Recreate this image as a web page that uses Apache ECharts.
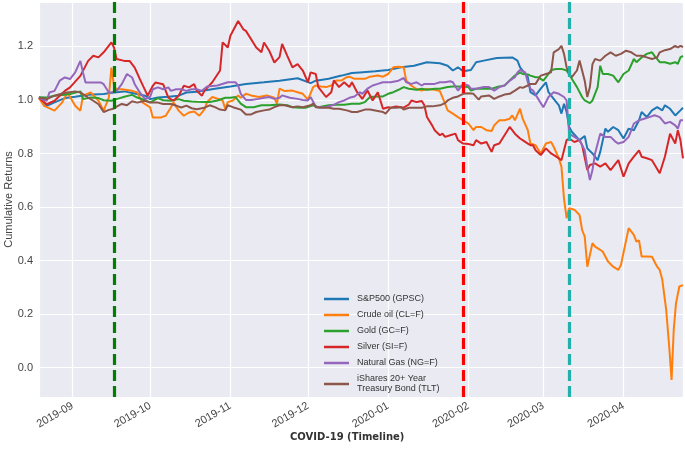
<!DOCTYPE html>
<html>
<head>
<meta charset="utf-8">
<script src="https://cdn.jsdelivr.net/npm/echarts@6/dist/echarts.min.js"></script>
<style>html,body{margin:0;padding:0;background:#fff;}#c{width:685px;height:454px;}</style>
</head>
<body>
<div id="c"></div>
<script>
const seriesNames = ['S&P500 (GPSC)', 'Crude oil (CL=F)', 'Gold (GC=F)', 'Silver (SI=F)', 'Natural Gas (NG=F)', 'iShares 20+ Year Treasury Bond (TLT)'];
const seriesColors = ['#1f77b4', '#ff7f0e', '#2ca02c', '#d62728', '#9467bd', '#8c564b'];

const sp500 = [
['2019-08-19',1.01],['2019-08-22',0.978],['2019-08-25',0.991],['2019-08-29',1.007],['2019-09-02',1.012],['2019-09-07',1.019],['2019-09-13',1.022],['2019-09-17',1.028],['2019-09-21',1.032],['2019-09-25',1.024],['2019-09-29',1.016],['2019-10-01',1.003],['2019-10-04',1.009],['2019-10-08',1.012],['2019-10-12',1.016],['2019-10-15',1.028],['2019-10-19',1.031],
['2019-10-22',1.035],['2019-10-26',1.042],['2019-11-01',1.05],['2019-11-07',1.06],['2019-11-14',1.066],['2019-11-20',1.072],['2019-11-27',1.081],['2019-12-02',1.063],['2019-12-04',1.072],['2019-12-09',1.079],['2019-12-14',1.091],['2019-12-18',1.101],['2019-12-21',1.103],
['2019-12-27',1.107],['2020-01-01',1.112],['2020-01-06',1.122],['2020-01-11',1.128],['2020-01-16',1.141],['2020-01-21',1.137],['2020-01-24',1.128],['2020-01-26',1.11],['2020-01-28',1.122],['2020-01-30',1.107],['2020-02-02',1.112],['2020-02-04',1.141],['2020-02-07',1.147],['2020-02-12',1.157],['2020-02-18',1.159],['2020-02-20',1.147],
['2020-02-21',1.122],['2020-02-24',1.085],['2020-02-25',1.029],['2020-02-27',1.017],['2020-02-29',1.042],['2020-03-02',1.066],['2020-03-03',1.029],['2020-03-05',1.004],['2020-03-07',0.98],['2020-03-08',0.949],['2020-03-09',0.986],['2020-03-10',0.955],['2020-03-11',0.899],['2020-03-12',0.881],['2020-03-15',0.85],['2020-03-17',0.865],['2020-03-18',0.819],['2020-03-20',0.8],['2020-03-22',0.775],['2020-03-23',0.806],['2020-03-25',0.893],['2020-03-26',0.881],['2020-03-28',0.899],['2020-03-30',0.887],['2020-04-01',0.856],['2020-04-03',0.893],['2020-04-05',0.887],['2020-04-07',0.924],['2020-04-08',0.955],['2020-04-10',0.936],['2020-04-12',0.961],['2020-04-14',0.973],['2020-04-16',0.961],['2020-04-17',0.98],['2020-04-19',0.967],['2020-04-21',0.942],['2020-04-23',0.961],['2020-04-24',0.971]
];

const crudeOil = [
['2019-08-19',1.007],['2019-08-21',0.978],['2019-08-25',0.96],['2019-08-28',0.991],['2019-08-30',1.028],['2019-09-02',0.978],['2019-09-04',0.96],['2019-09-05',1.016],['2019-09-08',1.028],['2019-09-11',0.997],['2019-09-13',0.96],['2019-09-15',1.009],['2019-09-16',1.121],['2019-09-17',1.053],['2019-09-18',1.04],['2019-09-20',1.04],['2019-09-22',1.037],['2019-09-24',1.034],['2019-09-26',1.028],['2019-09-28',0.991],['2019-10-01',0.972],['2019-10-02',0.934],['2019-10-05',0.934],['2019-10-07',0.941],['2019-10-09',0.972],['2019-10-10',0.991],['2019-10-12',0.96],['2019-10-14',0.941],['2019-10-16',0.953],['2019-10-18',0.957],['2019-10-20',0.941],
['2019-10-22',0.965],['2019-10-23',0.992],['2019-10-25',1.011],['2019-10-27',1.005],['2019-10-29',0.998],['2019-10-30',0.967],['2019-10-31',0.992],['2019-11-02',0.998],['2019-11-04',1.017],['2019-11-05',1.008],['2019-11-07',1.023],['2019-11-09',1.017],['2019-11-12',1.011],['2019-11-15',1.017],['2019-11-18',1.008],['2019-11-19',0.986],['2019-11-20',1.042],['2019-11-22',1.033],['2019-11-25',1.035],['2019-11-27',1.029],['2019-11-29',1.023],['2019-12-01',1.001],['2019-12-03',1.048],['2019-12-04',1.054],['2019-12-06',1.05],['2019-12-08',1.048],['2019-12-10',1.054],['2019-12-12',1.073],['2019-12-14',1.073],['2019-12-16',1.085],['2019-12-17',1.087],['2019-12-19',1.079],['2019-12-21',1.079],
['2019-12-23',1.079],['2019-12-25',1.087],['2019-12-28',1.091],['2019-12-30',1.087],['2020-01-01',1.097],['2020-01-03',1.122],['2020-01-05',1.124],['2020-01-07',1.122],['2020-01-08',1.072],['2020-01-10',1.053],['2020-01-12',1.041],['2020-01-14',1.035],['2020-01-16',1.041],['2020-01-19',1.038],['2020-01-21',1.033],['2020-01-23',0.986],['2020-01-24',0.961],['2020-01-26',0.949],['2020-01-28',0.936],['2020-01-30',0.924],['2020-02-01',0.912],['2020-02-03',0.887],['2020-02-04',0.899],['2020-02-06',0.899],['2020-02-08',0.887],['2020-02-10',0.884],['2020-02-11',0.905],['2020-02-13',0.924],['2020-02-15',0.924],['2020-02-17',0.93],['2020-02-18',0.942],['2020-02-19',0.924],['2020-02-21',0.967],
['2020-02-22',0.93],['2020-02-24',0.887],['2020-02-25',0.837],['2020-02-27',0.831],['2020-02-29',0.8],['2020-03-02',0.837],['2020-03-04',0.843],['2020-03-05',0.825],['2020-03-07',0.782],['2020-03-08',0.751],['2020-03-09',0.63],['2020-03-10',0.558],['2020-03-11',0.595],['2020-03-13',0.59],['2020-03-15',0.57],['2020-03-16',0.514],['2020-03-17',0.489],['2020-03-18',0.377],['2020-03-20',0.465],['2020-03-21',0.452],['2020-03-23',0.44],['2020-03-24',0.433],['2020-03-26',0.396],['2020-03-28',0.377],['2020-03-30',0.365],['2020-03-31',0.383],['2020-04-03',0.521],['2020-04-05',0.496],['2020-04-06',0.471],['2020-04-07',0.475],['2020-04-08',0.415],['2020-04-10',0.415],['2020-04-12',0.414],['2020-04-14',0.377],['2020-04-15',0.365],['2020-04-16',0.328],['2020-04-17 12:00',0.216],['2020-04-18 16:00',0.078],['2020-04-19 14:00',-0.046],['2020-04-20 10:00',0.141],['2020-04-21 07:00',0.24],['2020-04-22 14:00',0.303],['2020-04-24',0.308]
];

const gold = [
['2019-08-19',1.01],['2019-08-22',1.009],['2019-08-25',1.016],['2019-08-29',1.019],['2019-08-31',1.022],['2019-09-04',1.032],['2019-09-05',1.003],['2019-09-08',1.009],['2019-09-11',1.007],['2019-09-13',0.999],['2019-09-16',0.997],['2019-09-18',1.003],['2019-09-21',1.012],['2019-09-24',1.019],['2019-09-26',1.009],['2019-09-29',0.999],['2019-10-01',0.991],['2019-10-04',1.007],['2019-10-06',0.999],['2019-10-09',0.997],['2019-10-12',1.003],['2019-10-14',0.997],['2019-10-17',0.994],['2019-10-19',0.993],
['2019-10-22',0.992],['2019-10-24',0.992],['2019-10-27',0.998],['2019-10-30',1.008],['2019-11-01',1.008],['2019-11-03',1.011],['2019-11-04',0.998],['2019-11-05',0.986],['2019-11-07',0.973],['2019-11-10',0.973],['2019-11-13',0.98],['2019-11-16',0.98],['2019-11-20',0.983],['2019-11-23',0.98],['2019-11-25',0.973],['2019-11-28',0.971],['2019-11-30',0.971],['2019-12-03',0.98],['2019-12-05',0.973],['2019-12-09',0.98],['2019-12-12',0.982],['2019-12-15',0.982],['2019-12-18',0.986],['2019-12-21',0.986],
['2019-12-23',0.992],['2019-12-25',1.011],['2019-12-28',1.013],['2019-12-30',1.013],['2020-01-01',1.023],['2020-01-03',1.029],['2020-01-05',1.038],['2020-01-07',1.048],['2020-01-09',1.042],['2020-01-12',1.038],['2020-01-14',1.042],['2020-01-16',1.038],['2020-01-19',1.042],['2020-01-21',1.042],['2020-01-24',1.048],['2020-01-26',1.05],['2020-01-28',1.05],['2020-02-01',1.048],['2020-02-02',1.035],['2020-02-04',1.042],['2020-02-07',1.042],['2020-02-10',1.042],['2020-02-12',1.048],['2020-02-15',1.054],['2020-02-17',1.073],['2020-02-19',1.091],['2020-02-21',1.103],
['2020-02-22',1.097],['2020-02-24',1.095],['2020-02-25',1.091],['2020-02-27',1.085],['2020-02-28',1.085],['2020-03-01',1.072],['2020-03-03',1.097],['2020-03-04',1.112],['2020-03-06',1.116],['2020-03-08',1.116],['2020-03-10',1.11],['2020-03-12',1.079],['2020-03-14',1.048],['2020-03-16',1.011],['2020-03-17',0.998],['2020-03-19',0.988],['2020-03-20',0.998],['2020-03-22',1.048],['2020-03-23',1.128],['2020-03-24',1.097],['2020-03-26',1.097],['2020-03-28',1.091],['2020-03-30',1.066],['2020-04-01',1.097],['2020-04-03',1.11],['2020-04-05',1.153],['2020-04-06',1.141],['2020-04-08',1.159],['2020-04-10',1.172],['2020-04-12',1.178],['2020-04-13',1.165],['2020-04-15',1.141],['2020-04-17',1.141],['2020-04-19',1.135],['2020-04-21',1.141],['2020-04-22',1.135],['2020-04-23',1.159],['2020-04-24',1.165]
];

const silver = [
['2019-08-19',1.007],['2019-08-22',0.984],['2019-08-25',0.997],['2019-08-29',1.034],['2019-08-31',1.047],['2019-09-04',1.09],['2019-09-07',1.146],['2019-09-09',1.165],['2019-09-11',1.159],['2019-09-13',1.178],['2019-09-16',1.215],['2019-09-17',1.196],['2019-09-18',1.153],['2019-09-21',1.146],['2019-09-23',1.146],['2019-09-25',1.121],['2019-09-27',1.078],['2019-09-30',1.016],['2019-10-02',1.053],['2019-10-03',1.065],['2019-10-06',1.059],['2019-10-08',1.009],['2019-10-10',0.997],['2019-10-12',1.016],['2019-10-14',1.053],['2019-10-16',1.047],['2019-10-18',1.059],['2019-10-19',1.034],['2019-10-21',1.016],
['2019-10-22',1.035],['2019-10-25',1.066],['2019-10-28',1.11],['2019-10-29',1.215],['2019-10-31',1.196],['2019-11-01',1.24],['2019-11-04',1.295],['2019-11-06',1.264],['2019-11-07',1.258],['2019-11-11',1.196],['2019-11-13',1.178],['2019-11-14',1.215],['2019-11-16',1.184],['2019-11-18',1.14],['2019-11-20',1.16],['2019-11-21',1.209],['2019-11-23',1.165],['2019-11-25',1.122],['2019-11-27',1.134],['2019-11-29',1.11],['2019-12-01',1.066],['2019-12-02',1.103],['2019-12-04',1.097],['2019-12-05',1.048],['2019-12-08',1.011],['2019-12-10',1.029],['2019-12-11',1.073],['2019-12-13',1.048],['2019-12-15',1.066],['2019-12-17',1.048],['2019-12-18',1.066],['2019-12-20',1.029],
['2019-12-22',1.004],['2019-12-24',1.035],['2019-12-26',0.998],['2019-12-28',1.029],['2019-12-30',0.967],['2020-01-01',0.973],['2020-01-02',0.971],['2020-01-04',0.976],['2020-01-06',0.973],['2020-01-07',0.971],['2020-01-09',0.983],['2020-01-10',0.998],['2020-01-12',0.992],['2020-01-14',0.996],['2020-01-15',0.98],['2020-01-16',0.936],['2020-01-18',0.905],['2020-01-19',0.887],['2020-01-21',0.868],['2020-01-22',0.874],['2020-01-23',0.862],['2020-01-25',0.868],['2020-01-27',0.874],['2020-01-28',0.85],['2020-01-30',0.837],['2020-02-01',0.835],['2020-02-03',0.831],['2020-02-04',0.85],['2020-02-06',0.837],['2020-02-08',0.843],['2020-02-10',0.806],['2020-02-11',0.831],['2020-02-13',0.837],['2020-02-15',0.868],['2020-02-17',0.899],['2020-02-19',0.874],['2020-02-21',0.856],
['2020-02-22',0.85],['2020-02-24',0.837],['2020-02-25',0.831],['2020-02-26',0.831],['2020-02-27',0.812],['2020-02-29',0.794],['2020-03-02',0.819],['2020-03-04',0.8],['2020-03-06',0.788],['2020-03-08',0.775],['2020-03-09',0.812],['2020-03-10',0.85],['2020-03-11',0.856],['2020-03-13',0.843],['2020-03-15',0.85],['2020-03-16',0.831],['2020-03-18',0.738],['2020-03-19',0.757],['2020-03-21',0.763],['2020-03-23',0.751],['2020-03-25',0.763],['2020-03-27',0.738],['2020-03-30',0.775],['2020-04-01',0.713],['2020-04-03',0.763],['2020-04-05',0.788],['2020-04-07',0.812],['2020-04-08',0.788],['2020-04-10',0.782],['2020-04-12',0.775],['2020-04-15',0.726],['2020-04-17',0.788],['2020-04-19',0.874],['2020-04-21',0.837],['2020-04-22',0.887],['2020-04-23',0.85],['2020-04-24',0.782]
];

const naturalGas = [
['2019-08-19',1.007],['2019-08-22',0.997],['2019-08-23',1.028],['2019-08-25',1.034],['2019-08-27',1.072],['2019-08-29',1.084],['2019-08-31',1.078],['2019-09-02',1.103],['2019-09-04',1.146],['2019-09-05',1.103],['2019-09-06',1.065],['2019-09-09',1.065],['2019-09-12',1.065],['2019-09-13',1.059],['2019-09-15',1.028],['2019-09-16',1.028],['2019-09-18',1.034],['2019-09-20',1.059],['2019-09-22',1.097],['2019-09-24',1.084],['2019-09-25',1.059],['2019-09-27',1.028],['2019-09-29',1.003],['2019-10-01',1.012],['2019-10-02',1.04],['2019-10-04',1.047],['2019-10-06',1.04],['2019-10-08',1.047],['2019-10-09',1.034],['2019-10-11',1.04],['2019-10-13',1.04],['2019-10-15',1.034],['2019-10-17',1.04],['2019-10-19',1.04],['2019-10-21',1.034],
['2019-10-23',1.05],['2019-10-27',1.054],['2019-10-31',1.066],['2019-11-03',1.066],['2019-11-04',1.054],['2019-11-05',1.023],['2019-11-07',1.0],['2019-11-09',1.0],['2019-11-12',1.004],['2019-11-14',1.008],['2019-11-16',1.011],['2019-11-18',1.004],['2019-11-20',1.008],['2019-11-21',1.017],['2019-11-24',1.008],['2019-11-27',1.004],['2019-11-29',1.0],['2019-12-01',0.998],['2019-12-02',1.011],['2019-12-04',0.976],['2019-12-05',0.973],['2019-12-08',0.973],['2019-12-11',0.982],['2019-12-13',0.992],['2019-12-15',0.998],['2019-12-17',1.008],['2019-12-19',1.013],['2019-12-21',1.029],
['2019-12-22',1.023],['2019-12-24',1.042],['2019-12-26',1.054],['2019-12-28',1.06],['2019-12-30',1.066],['2020-01-02',1.066],['2020-01-05',1.072],['2020-01-07',1.082],['2020-01-08',1.066],['2020-01-10',1.06],['2020-01-12',1.066],['2020-01-14',1.054],['2020-01-15',1.06],['2020-01-17',1.06],['2020-01-19',1.06],['2020-01-21',1.066],['2020-01-23',1.066],['2020-01-25',1.07],['2020-01-26',1.066],['2020-01-28',1.035],['2020-01-29',1.048],['2020-01-30',1.06],['2020-02-01',1.054],['2020-02-02',1.042],['2020-02-04',1.042],['2020-02-07',1.048],['2020-02-09',1.048],['2020-02-11',1.035],['2020-02-13',1.048],['2020-02-15',1.054],['2020-02-17',1.072],['2020-02-19',1.085],['2020-02-20',1.103],
['2020-02-21',1.112],['2020-02-23',1.103],['2020-02-24',1.066],['2020-02-25',1.042],['2020-02-26',1.035],['2020-02-28',1.004],['2020-03-01',0.973],['2020-03-03',1.011],['2020-03-05',1.029],['2020-03-07',1.023],['2020-03-09',1.011],['2020-03-10',0.998],['2020-03-11',0.874],['2020-03-13',0.862],['2020-03-15',0.85],['2020-03-17',0.812],['2020-03-18',0.751],['2020-03-19',0.701],['2020-03-20',0.738],['2020-03-21',0.8],['2020-03-23',0.874],['2020-03-25',0.862],['2020-03-27',0.862],['2020-03-29',0.843],['2020-03-30',0.837],['2020-04-01',0.843],['2020-04-03',0.862],['2020-04-05',0.912],['2020-04-07',0.924],['2020-04-09',0.93],['2020-04-11',0.936],['2020-04-13',0.943],['2020-04-15',0.936],['2020-04-17',0.912],['2020-04-19',0.918],['2020-04-21',0.905],['2020-04-22',0.893],['2020-04-23',0.924],['2020-04-24',0.924]
];

const treasuryBond = [
['2019-08-19',1.009],['2019-08-22',1.003],['2019-08-25',1.016],['2019-08-28',1.024],['2019-08-30',1.028],['2019-09-02',1.032],['2019-09-04',1.028],['2019-09-07',1.009],['2019-09-09',0.997],['2019-09-11',0.984],['2019-09-13',0.955],['2019-09-15',0.963],['2019-09-17',0.968],['2019-09-18',0.975],['2019-09-20',0.985],['2019-09-22',0.98],['2019-09-24',0.995],['2019-09-26',0.99],['2019-09-29',0.997],['2019-10-01',0.99],['2019-10-04',0.99],['2019-10-06',0.985],['2019-10-09',0.985],['2019-10-11',0.979],['2019-10-13',0.972],['2019-10-15',0.979],['2019-10-17',0.969],['2019-10-19',0.965],['2019-10-21',0.969],
['2019-10-22',0.971],['2019-10-24',0.98],['2019-10-26',0.973],['2019-10-28',0.964],['2019-10-30',0.961],['2019-10-31',0.98],['2019-11-02',0.973],['2019-11-05',0.964],['2019-11-07',0.946],['2019-11-09',0.946],['2019-11-11',0.955],['2019-11-14',0.961],['2019-11-16',0.964],['2019-11-18',0.973],['2019-11-20',0.98],['2019-11-22',0.98],['2019-11-25',0.973],['2019-11-27',0.976],['2019-11-29',0.973],['2019-12-02',0.98],['2019-12-03',0.986],['2019-12-04',0.973],['2019-12-06',0.971],['2019-12-09',0.971],['2019-12-11',0.967],['2019-12-13',0.967],['2019-12-16',0.961],['2019-12-18',0.955],['2019-12-20',0.955],
['2019-12-23',0.964],['2019-12-25',0.964],['2019-12-28',0.959],['2019-12-30',0.955],['2019-12-31',0.949],['2020-01-02',0.971],['2020-01-04',0.971],['2020-01-06',0.973],['2020-01-07',0.964],['2020-01-09',0.971],['2020-01-11',0.971],['2020-01-14',0.971],['2020-01-16',0.976],['2020-01-18',0.976],['2020-01-21',0.98],['2020-01-23',0.988],['2020-01-24',0.998],['2020-01-26',1.008],['2020-01-28',1.013],['2020-01-30',1.023],['2020-02-01',1.025],['2020-02-03',1.023],['2020-02-05',1.001],['2020-02-06',1.013],['2020-02-09',1.017],['2020-02-11',1.004],['2020-02-13',1.013],['2020-02-15',1.02],['2020-02-17',1.023],['2020-02-19',1.035],['2020-02-21',1.048],
['2020-02-22',1.045],['2020-02-24',1.054],['2020-02-25',1.06],['2020-02-27',1.06],['2020-02-29',1.091],['2020-03-02',1.097],['2020-03-04',1.103],['2020-03-05',1.178],['2020-03-07',1.19],['2020-03-08',1.202],['2020-03-09',1.172],['2020-03-10',1.122],['2020-03-11',1.097],['2020-03-12',1.085],['2020-03-14',1.11],['2020-03-15',1.147],['2020-03-17',1.072],['2020-03-18',1.011],['2020-03-19',1.048],['2020-03-20',1.134],['2020-03-21',1.153],['2020-03-23',1.147],['2020-03-25',1.165],['2020-03-27',1.178],['2020-03-29',1.165],['2020-03-31',1.172],['2020-04-02',1.184],['2020-04-04',1.178],['2020-04-06',1.165],['2020-04-08',1.165],['2020-04-10',1.159],['2020-04-12',1.153],['2020-04-14',1.159],['2020-04-15',1.178],['2020-04-17',1.186],['2020-04-19',1.19],['2020-04-21',1.202],['2020-04-22',1.196],['2020-04-23',1.202],['2020-04-24',1.198]
];

const eventDates = ['2019-09-17', '2020-01-30', '2020-03-11'];
const eventColors = ['#008000', '#ff0000', '#20b2aa'];
const yTicks = [0, 0.2, 0.4, 0.6, 0.8, 1.0, 1.2];

const allData = [sp500, crudeOil, gold, silver, naturalGas, treasuryBond];

const chart = echarts.init(document.getElementById('c'), null, {renderer: 'canvas'});

const series = seriesNames.map((name, i) => ({
  name: name,
  type: 'line',
  data: allData[i],
  showSymbol: false,
  symbol: 'none',
  color: seriesColors[i],
  lineStyle: {width: 2, color: seriesColors[i]},
  emphasis: {disabled: true},
  animation: false
}));

series.push({
  name: 'events',
  type: 'line',
  data: [],
  z: 10,
  animation: false,
  markLine: {
    silent: true,
    symbol: ['none', 'none'],
    label: {show: false},
    animation: false,
    data: eventDates.map((d, i) => ({
      xAxis: d,
      lineStyle: {color: eventColors[i], width: 3.2, type: [11, 5], opacity: 1}
    }))
  }
});

const option = {
  backgroundColor: '#ffffff',
  animation: false,
  grid: {
    left: 39, right: 2, top: 2, bottom: 57,
    containLabel: false,
    outerBoundsMode: 'none',
    show: true, backgroundColor: '#EAEAF2', borderWidth: 0
  },
  xAxis: {
    type: 'time',
    min: '2019-08-19',
    max: '2020-04-24',
    splitNumber: 8,
    axisLine: {show: false},
    axisTick: {show: false},
    splitLine: {show: true, lineStyle: {color: '#ffffff', width: 1.2}},
    axisLabel: {
      rotate: 30,
      margin: 8,
      color: '#444',
      fontSize: 11,
      fontFamily: 'Liberation Sans, Arial, sans-serif',
      showMinLabel: false,
      showMaxLabel: false,
      formatter: '{yyyy}-{MM}'
    }
  },
  yAxis: {
    type: 'value',
    min: -0.11,
    max: 1.366,
    splitNumber: 7,
    name: 'Cumulative Returns',
    nameLocation: 'middle',
    nameGap: 25,
    nameMoveOverlap: false,
    nameTextStyle: {color: '#444', fontSize: 11, fontFamily: 'Liberation Sans, Arial, sans-serif'},
    axisLine: {show: false},
    axisTick: {show: false},
    splitLine: {show: true, lineStyle: {color: '#ffffff', width: 1.2}},
    axisLabel: {
      color: '#444',
      fontSize: 11,
      margin: 6,
      fontFamily: 'Liberation Sans, Arial, sans-serif',
      showMinLabel: false,
      showMaxLabel: false,
      formatter: function (v) {
        for (const t of yTicks) { if (Math.abs(v - t) < 1e-6) return t.toFixed(1); }
        return '';
      }
    }
  },
  legend: {
    data: seriesNames,
    orient: 'vertical',
    left: 324,
    top: 294,
    padding: 0,
    icon: 'rect',
    itemWidth: 25,
    itemHeight: 2.5,
    itemGap: 6,
    textStyle: {color: '#333', fontSize: 9, lineHeight: 10, fontFamily: 'Liberation Sans, Arial, sans-serif', padding: [0, 0, 0, 3]},
    formatter: function (name) {
      return name === 'iShares 20+ Year Treasury Bond (TLT)' ? 'iShares 20+ Year\nTreasury Bond (TLT)' : name;
    },
    selectedMode: false
  },
  graphic: [{
    type: 'text',
    left: 290,
    top: 432,
    style: {text: 'COVID-19 (Timeline)', fill: '#333', font: 'bold 10px "DejaVu Sans", sans-serif'}
  }],
  series: series
};

chart.setOption(option);
</script>
</body>
</html>
